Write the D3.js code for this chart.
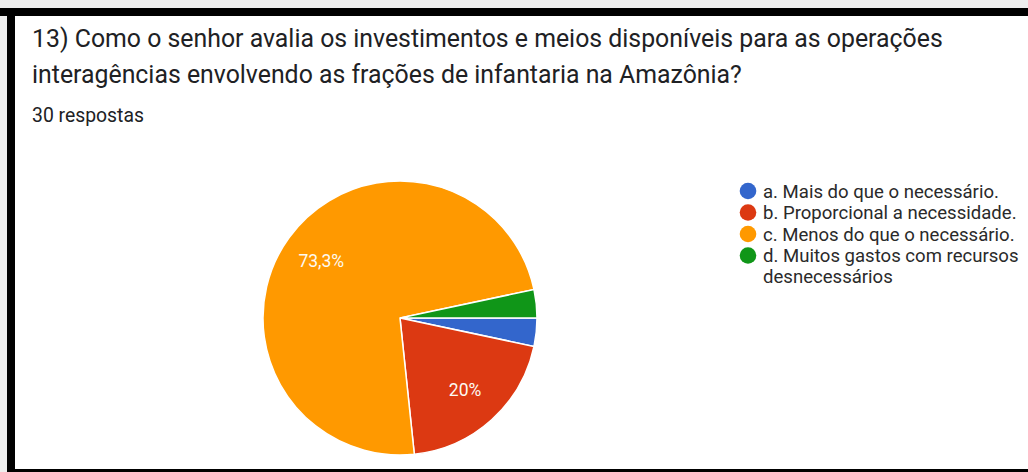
<!DOCTYPE html>
<html>
<head>
<meta charset="utf-8">
<script src="https://cdn.jsdelivr.net/npm/d3@7"></script>
<style>
  html, body { margin: 0; padding: 0; background: #ffffff; overflow: hidden; }
  svg { display: block; }
  text { font-family: Roboto, "Noto Sans", sans-serif; }
</style>
</head>
<body>
<div id="chart"></div>
<script>
// Survey question, answer options and response counts (30 responses)
const titleLines = [
  "13) Como o senhor avalia os investimentos e meios disponíveis para as operações",
  "interagências envolvendo as frações de infantaria na Amazônia?"
];
const subtitle = "30 respostas";
const categories = [
  "a. Mais do que o necessário.",
  "b. Proporcional a necessidade.",
  "c. Menos do que o necessário.",
  "d. Muitos gastos com recursos desnecessários"
];
const legendLines = [
  ["a. Mais do que o necessário."],
  ["b. Proporcional a necessidade."],
  ["c. Menos do que o necessário."],
  ["d. Muitos gastos com recursos", "desnecessários"]
];
const counts = [1, 6, 22, 1];
const colors = ["#3366cc", "#dc3912", "#ff9900", "#109618"];

const W = 1028, H = 472;
const svg = d3.select("#chart").append("svg")
  .attr("width", W).attr("height", H);

// card frame
svg.append("rect").attr("x", 0).attr("y", 0).attr("width", W).attr("height", H).attr("fill", "#ffffff");
svg.append("rect").attr("x", 0).attr("y", 0).attr("width", W).attr("height", 8).attr("fill", "#eeeeee");
svg.append("rect").attr("x", 0).attr("y", 0).attr("width", 7).attr("height", H).attr("fill", "#eeeeee");
svg.append("rect").attr("x", 0).attr("y", 8).attr("width", W).attr("height", 8).attr("fill", "#000");
svg.append("rect").attr("x", 7).attr("y", 8).attr("width", 8).attr("height", H - 8).attr("fill", "#000");
svg.append("rect").attr("x", 7).attr("y", 469).attr("width", W - 7).attr("height", 3).attr("fill", "#000");

// size a text element so that it spans the given width
function fitWidth(sel, width) {
  const node = sel.node();
  let fs = parseFloat(sel.attr("font-size"));
  const w = node.getComputedTextLength();
  sel.attr("font-size", (fs * width / w).toFixed(2));
}

const t1 = svg.append("text").attr("x", 32).attr("y", 47)
  .attr("font-size", 26).attr("fill", "#202124").text(titleLines[0]);
fitWidth(t1, 911);
const t2 = svg.append("text").attr("x", 32).attr("y", 83)
  .attr("font-size", t1.attr("font-size")).attr("fill", "#202124").text(titleLines[1]);

const st = svg.append("text").attr("x", 32).attr("y", 122)
  .attr("font-size", 16).attr("fill", "#202124").text(subtitle);
fitWidth(st, 112);

// pie
const cx = 400, cy = 318, r = 137;
const pie = d3.pie().sort(null).value(d => d)
  .startAngle(Math.PI / 2).endAngle(Math.PI / 2 + 2 * Math.PI);
const arcs = pie(counts);
const arc = d3.arc().innerRadius(0).outerRadius(r);
const labelArc = d3.arc().innerRadius(r * 0.71).outerRadius(r * 0.71);
const total = d3.sum(counts);

const g = svg.append("g").attr("transform", `translate(${cx},${cy})`);
g.selectAll("path").data(arcs).join("path")
  .attr("d", arc)
  .attr("fill", (d, i) => colors[i])
  .attr("stroke", "#ffffff")
  .attr("stroke-width", 1.5);

const fmt = v => {
  const p = Math.round(v / total * 1000) / 10;
  return String(p).replace(".", ",") + "%";
};
g.selectAll("text.lbl").data(arcs.filter(d => d.data / total >= 0.05)).join("text")
  .attr("class", "lbl")
  .attr("transform", d => `translate(${labelArc.centroid(d)})`)
  .attr("text-anchor", "middle")
  .attr("dy", "0.35em")
  .attr("font-size", 17.5)
  .attr("fill", "#fdfaf2")
  .text(d => fmt(d.data));

// legend
const lx = 748, ly = 191, rowH = 21.5, lineH = 21;
const leg = svg.append("g");
let y = ly;
legendLines.forEach((lines, i) => {
  leg.append("circle").attr("cx", lx).attr("cy", y).attr("r", 8.3).attr("fill", colors[i]);
  lines.forEach((ln, j) => {
    leg.append("text").attr("class", "legtxt")
      .attr("x", 763).attr("y", y + j * lineH).attr("dy", "0.36em")
      .attr("font-size", 16).attr("fill", "#2a2a2a").text(ln);
  });
  y += rowH;
});
const first = leg.select("text.legtxt");
fitWidth(first, 236);
leg.selectAll("text.legtxt").attr("font-size", first.attr("font-size"));
</script>
</body>
</html>
